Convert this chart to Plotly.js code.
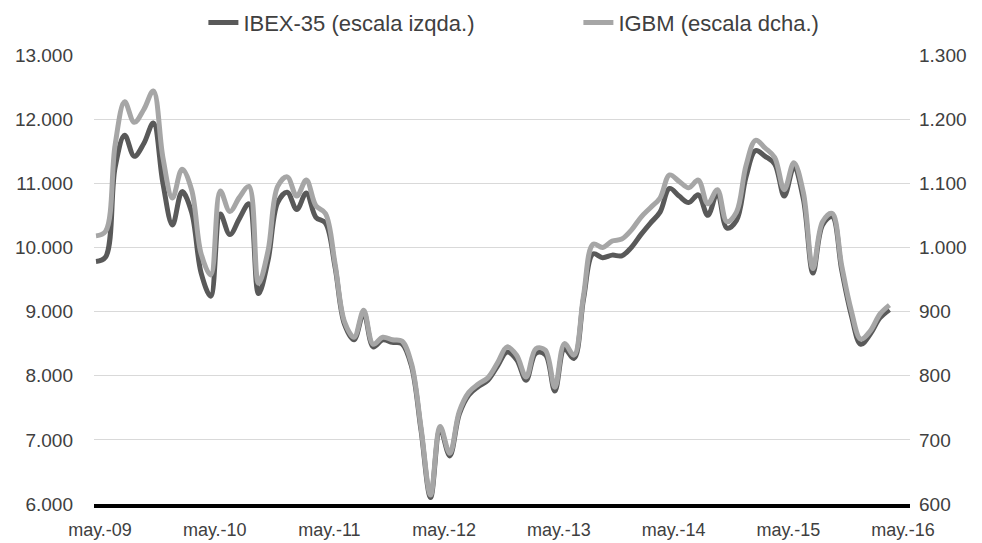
<!DOCTYPE html>
<html>
<head>
<meta charset="utf-8">
<script src="https://cdn.plot.ly/plotly-3.0.1.min.js"></script>
<style>
  html, body { margin: 0; padding: 0; background: #ffffff; }
  #chart { width: 982px; height: 543px; }
</style>
</head>
<body>
<div id="chart"></div>
<script>
// Monthly observations (index 0 = jun.-09 ... 83 = may.-16)
const months = [
  '2009-06','2009-07','2009-08','2009-09','2009-10','2009-11','2009-12',
  '2010-01','2010-02','2010-03','2010-04','2010-05','2010-06','2010-07','2010-08','2010-09','2010-10','2010-11','2010-12',
  '2011-01','2011-02','2011-03','2011-04','2011-05','2011-06','2011-07','2011-08','2011-09','2011-10','2011-11','2011-12',
  '2012-01','2012-02','2012-03','2012-04','2012-05','2012-06','2012-07','2012-08','2012-09','2012-10','2012-11','2012-12',
  '2013-01','2013-02','2013-03','2013-04','2013-05','2013-06','2013-07','2013-08','2013-09','2013-10','2013-11','2013-12',
  '2014-01','2014-02','2014-03','2014-04','2014-05','2014-06','2014-07','2014-08','2014-09','2014-10','2014-11','2014-12',
  '2015-01','2015-02','2015-03','2015-04','2015-05','2015-06','2015-07','2015-08','2015-09','2015-10','2015-11','2015-12',
  '2016-01','2016-02','2016-03','2016-04','2016-05'
];

// IBEX-35 (left scale)
const ibex = [
  9780, 9850, 11250, 11750, 11420, 11620, 11940,
  11000, 10350, 10870, 10550, 9600, 9240, 10520, 10200, 10450, 10680, 9280, 9800,
  10700, 10860, 10590, 10850, 10470, 10380, 9700, 8800, 8560, 8980, 8450, 8560,
  8520, 8500, 8150, 7150, 6100, 7170, 6750, 7400, 7700, 7830, 7930, 8150,
  8370, 8250, 7930, 8350, 8330, 7760, 8420, 8270, 9200, 9900, 9840, 9880,
  9870, 10000, 10200, 10380, 10550, 10920, 10800, 10700, 10820, 10500, 10850, 10300,
  10420, 11100, 11510, 11420, 11300, 10800, 11250, 10750, 9600, 10350, 10480, 9650,
  8950, 8490, 8650, 8900, 9030
];

// IGBM (right scale)
const igbm = [
  1018, 1025, 1160, 1227, 1195, 1215, 1244,
  1140, 1077, 1122, 1090, 990, 957, 1088, 1056, 1078, 1095, 944, 995,
  1095, 1110, 1080, 1105, 1065, 1053, 975, 884, 860, 902, 849, 860,
  856, 854, 819, 719, 614, 721, 679, 744, 774, 787, 797, 820,
  845, 832, 798, 842, 840, 782, 850, 832, 925, 1005, 1000, 1010,
  1013, 1027, 1047, 1062, 1077, 1113, 1103, 1093, 1105, 1068, 1090, 1040,
  1055, 1128, 1167, 1155, 1140, 1090, 1132, 1085, 967, 1040, 1053, 972,
  902, 857, 870, 896, 910
];

const tickLabels = ['may.-09','may.-10','may.-11','may.-12','may.-13','may.-14','may.-15','may.-16'];
const tickPositions = [0.42, 12.42, 24.42, 36.42, 48.42, 60.42, 72.42, 84.42];

const xIdx = months.map((m, i) => i);

const font = 'Liberation Sans, Arial, sans-serif';
const txt = '#404040';

const traces = [
  {
    x: xIdx, y: ibex, name: 'IBEX-35 (escala izqda.)', type: 'scatter', mode: 'lines',
    line: { color: '#595959', width: 5, shape: 'spline', smoothing: 1 },
    yaxis: 'y'
  },
  {
    x: xIdx, y: igbm, name: 'IGBM (escala dcha.)', type: 'scatter', mode: 'lines',
    line: { color: '#a6a6a6', width: 5, shape: 'spline', smoothing: 1 },
    yaxis: 'y2'
  }
];

const layout = {
  width: 982, height: 543,
  margin: { l: 94, r: 72, t: 55, b: 39 },
  paper_bgcolor: '#ffffff', plot_bgcolor: '#ffffff',
  separators: ',.',
  font: { family: font, color: txt, size: 18 },
  showlegend: true,
  legend: {
    orientation: 'h', x: 0.589, xanchor: 'center', xref: 'container',
    y: 0.958, yanchor: 'middle', yref: 'container',
    font: { family: font, size: 22, color: txt },
    entrywidth: 330,
    bgcolor: 'rgba(0,0,0,0)'
  },
  xaxis: {
    type: 'linear', range: [-0.21, 85.15],
    tickmode: 'array', tickvals: tickPositions, ticktext: tickLabels,
    showgrid: false, zeroline: false,
    showline: true, linecolor: '#000000', linewidth: 4,
    ticks: '', ticklabelstandoff: 6,
    tickfont: { family: font, size: 18, color: txt }
  },
  yaxis: {
    range: [6000, 13000], dtick: 1000, tick0: 6000, tickformat: ',d',
    showgrid: true, gridcolor: '#d9d9d9', gridwidth: 1,
    zeroline: false, showline: false, ticks: '', ticklabelstandoff: 20,
    tickfont: { family: font, size: 19, color: txt }
  },
  yaxis2: {
    overlaying: 'y', side: 'right',
    range: [600, 1300], dtick: 100, tick0: 600, tickformat: ',d',
    showgrid: false, zeroline: false, showline: false, ticks: '', ticklabelstandoff: 8,
    tickfont: { family: font, size: 19, color: txt }
  }
};

Plotly.newPlot('chart', traces, layout, { displayModeBar: false, staticPlot: true });
</script>
</body>
</html>
